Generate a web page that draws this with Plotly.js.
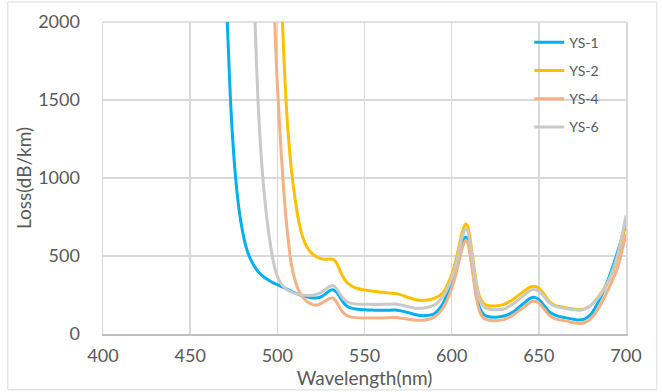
<!DOCTYPE html>
<html>
<head>
<meta charset="utf-8">
<script src="https://cdn.plot.ly/plotly-3.0.1.min.js"></script>
<style>html,body{margin:0;padding:0;background:#fff;}#chart{width:662px;height:392px;}</style>
</head>
<body>
<div id="chart"></div>
<script>
// Wavelength (nm) and loss (dB/km)
const seriesNames = ["YS-1", "YS-2", "YS-4", "YS-6"];

const wlYS1 = [470,471,472,473,474,475,476,478,480,482,484,486,488,490,492,494,496,498,500,502,504,506,508,510,512,514,516,518,520,522,524,526,528,530,532,534,536,538,540,542,545,550,555,560,565,568,570,575,580,585,590,595,600,602,604,606,608,609,610,612,614,616,618,620,625,630,635,640,645,647,650,653,656,660,665,670,673,676,680,685,690,695,700];
const lossYS1 = [2300,2080,1800,1530,1320,1150,1010,800,660,560,495,450,415,388,368,352,338,326,316,306,296,285,274,264,255,247,241,236,232,231,234,244,260,278,284,268,235,200,178,167,160,155,153,152,153,154,150,137,122,118,130,195,340,420,510,585,622,612,570,420,260,170,130,115,108,115,140,185,228,236,222,182,142,118,105,94,90,95,128,225,355,520,705];

const wlYS2 = [502,503,504,505,506,507,508,510,512,514,516,518,520,522,524,526,528,530,532,534,536,538,540,542,545,550,555,560,565,570,575,580,585,590,595,600,602,604,606,608,609,610,612,614,616,618,620,625,630,635,640,645,647,650,653,656,660,665,670,673,676,680,685,690,695,700];
const lossYS2 = [2200,1980,1720,1490,1320,1180,1060,880,740,640,580,540,515,498,487,481,479,480,478,455,405,360,330,312,295,282,274,268,262,254,235,218,216,228,265,380,455,550,650,705,695,650,500,340,240,200,185,180,190,220,262,300,306,295,255,210,180,170,160,156,160,185,250,340,480,735];

const wlYS4 = [498,499,500,501,502,503,504,505,506,507,508,510,512,514,516,518,520,522,524,526,528,530,532,534,536,538,540,542,545,550,555,560,565,568,570,575,580,585,590,595,600,602,604,606,608,609,610,612,614,616,618,620,625,630,635,640,645,647,650,653,656,660,665,670,673,676,680,685,690,695,700];
const lossYS4 = [2200,1850,1600,1400,1200,1030,870,740,630,530,450,350,285,245,218,200,190,185,190,202,215,228,230,205,165,135,118,110,105,103,103,103,105,106,103,95,88,90,108,165,290,365,455,550,600,590,545,400,240,145,105,92,85,92,120,160,203,210,198,160,120,95,85,72,67,72,100,180,290,420,640];

const wlYS6 = [486,487,488,489,490,491,492,494,496,498,500,502,504,506,508,510,512,514,516,518,520,522,524,526,528,530,532,534,536,538,540,542,545,550,555,560,565,568,570,575,580,585,590,595,600,602,604,606,608,609,610,612,614,616,618,620,625,630,635,640,645,647,650,653,656,660,665,670,673,676,680,685,690,695,700];
const lossYS6 = [2300,2060,1750,1480,1270,1100,960,740,575,450,370,325,298,280,268,260,254,250,248,247,248,252,260,272,290,305,310,290,255,225,207,198,193,191,190,190,191,192,188,175,165,168,185,240,355,430,520,620,675,665,620,480,320,220,180,165,155,160,190,235,278,285,275,240,200,175,165,155,152,158,185,245,340,500,760];

const xTickVals = [400,450,500,550,600,650,700];
const yTickVals = [0,500,1000,1500,2000];

const colors = ["#00B0F0", "#FFC000", "#F4B183", "#C9C9C9"];
const wls = [wlYS1, wlYS2, wlYS4, wlYS6];
const losses = [lossYS1, lossYS2, lossYS4, lossYS6];

const traces = seriesNames.map((name, i) => ({
  type: "scatter",
  mode: "lines",
  name: name,
  legendgroup: name,
  x: wls[i],
  y: losses[i],
  line: {color: colors[i], width: 3, shape: "spline", smoothing: 0.8}
}));

const fontFam = "Lato, 'Open Sans', sans-serif";
const layout = {
  width: 662,
  height: 392,
  margin: {l: 103, r: 36, t: 22, b: 58},
  paper_bgcolor: "#ffffff",
  plot_bgcolor: "#ffffff",
  font: {family: fontFam, color: "#595959"},
  showlegend: true,
  legend: {
    x: 0.815, y: 0.985, xanchor: "left", yanchor: "top",
    font: {size: 14, color: "#595959", family: fontFam},
    bgcolor: "rgba(0,0,0,0)",
    tracegroupgap: 7,
    traceorder: "grouped"
  },
  xaxis: {
    range: [400, 700],
    tickvals: xTickVals,
    ticktext: xTickVals.map(String),
    showgrid: true,
    gridcolor: "#d9d9d9",
    gridwidth: 1.5,
    zeroline: false,
    showline: true,
    linecolor: "#bfbfbf",
    linewidth: 2,
    ticks: "",
    ticklabelstandoff: 4,
    tickfont: {size: 18, color: "#595959", family: fontFam},
    title: {text: "Wavelength(nm)", font: {size: 19, color: "#595959", family: fontFam}, standoff: 6}
  },
  yaxis: {
    range: [0, 2000],
    tickvals: yTickVals,
    ticktext: yTickVals.map(String),
    showgrid: true,
    gridcolor: "#d9d9d9",
    gridwidth: 1.5,
    zeroline: false,
    showline: true,
    mirror: true,
    linecolor: "#d9d9d9",
    linewidth: 1.5,
    ticks: "",
    ticklabelstandoff: 18,
    tickfont: {size: 18, color: "#595959", family: fontFam},
    title: {text: "Loss(dB/km)", font: {size: 19, color: "#595959", family: fontFam}, standoff: 1}
  },
  shapes: [
    {type: "rect", xref: "paper", yref: "paper", x0: -0.182, x1: 1.059, y0: -0.179, y1: 1.064,
     line: {color: "#d9d9d9", width: 1}, fillcolor: "rgba(0,0,0,0)", layer: "below"},
    {type: "line", xref: "paper", yref: "paper", x0: 0, x1: 1, y0: 1, y1: 1,
     line: {color: "#d9d9d9", width: 1.5}, layer: "below"}
  ]
};

Plotly.newPlot("chart", traces, layout, {staticPlot: true, displayModeBar: false});
</script>
</body>
</html>
